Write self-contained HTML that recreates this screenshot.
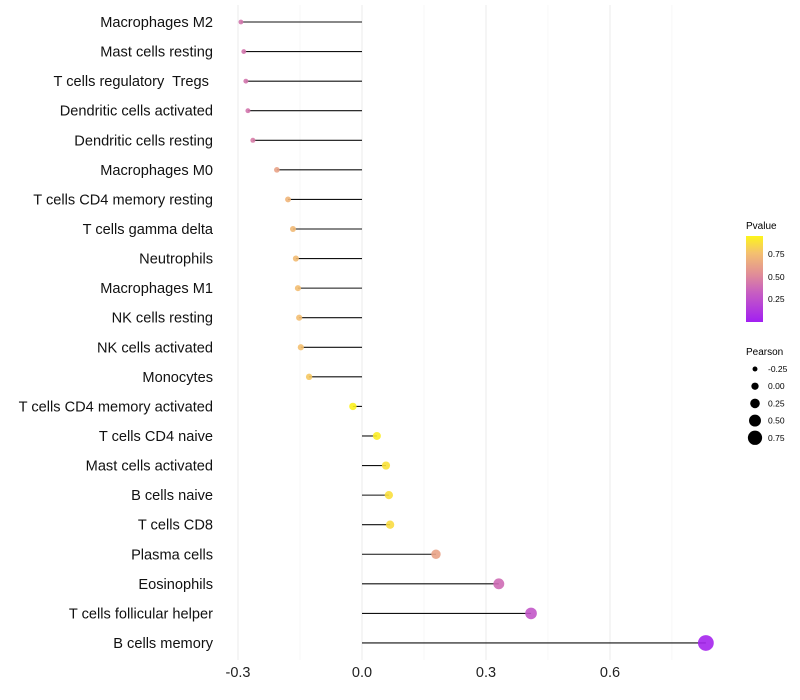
<!DOCTYPE html>
<html><head><meta charset="utf-8"><style>
body{margin:0;background:#fff;}
svg{display:block;font-family:"Liberation Sans",sans-serif;}
text{white-space:pre;}
</style></head><body>
<svg id="chart" width="800" height="700">
<defs><linearGradient id="pg" x1="0" y1="1" x2="0" y2="0">
<stop offset="0" stop-color="#a21ff2"/><stop offset="0.35" stop-color="#c860c0"/><stop offset="0.55" stop-color="#e08c98"/><stop offset="0.8" stop-color="#f4c070"/><stop offset="1" stop-color="#fdf51a"/></linearGradient></defs>
<g id="grid"></g><g id="marks"></g><g id="ylabels"></g><g id="xticks"></g>
<g>
<text x="746" y="229" font-size="10">Pvalue</text>
<rect x="746" y="236" width="17" height="86" fill="url(#pg)"/>
<text x="768" y="257" font-size="8.5">0.75</text>
<text x="768" y="280" font-size="8.5">0.50</text>
<text x="768" y="302" font-size="8.5">0.25</text>
</g>
<g id="sizeleg">
<text x="746" y="355" font-size="10">Pearson</text>
</g>
</svg>
<script>
const categories=["Macrophages M2","Mast cells resting","T cells regulatory  Tregs ","Dendritic cells activated","Dendritic cells resting","Macrophages M0","T cells CD4 memory resting","T cells gamma delta","Neutrophils","Macrophages M1","NK cells resting","NK cells activated","Monocytes","T cells CD4 memory activated","T cells CD4 naive","Mast cells activated","B cells naive","T cells CD8","Plasma cells","Eosinophils","T cells follicular helper","B cells memory"];
const pearson=[-0.293,-0.286,-0.281,-0.276,-0.264,-0.206,-0.179,-0.167,-0.160,-0.155,-0.152,-0.148,-0.128,-0.022,0.036,0.058,0.065,0.068,0.179,0.331,0.409,0.832];
const pvalue=[0.42,0.42,0.42,0.42,0.45,0.62,0.70,0.72,0.73,0.74,0.74,0.75,0.78,0.93,0.91,0.87,0.86,0.85,0.62,0.38,0.28,0.03];
const xTicks=[-0.3,0.0,0.3,0.6];
const xTickLabels=["-0.3","0.0","0.3","0.6"];
const sizeLegend=[-0.25,0.00,0.25,0.50,0.75];
const sizeLegendLabels=["-0.25","0.00","0.25","0.50","0.75"];
const NS="http://www.w3.org/2000/svg";
const X=v=>362+v*413.3;
const Y=i=>22+i*29.57;
const R=v=>Math.max(1.6,2.6+(v+0.25)*4.9);
const stops=[[0,[162,31,242]],[0.33,[200,96,192]],[0.52,[224,140,152]],[0.75,[244,192,112]],[0.94,[253,245,26]]];
function col(p){if(p<=0)p=0;for(let k=1;k<stops.length;k++){if(p<=stops[k][0]||k==stops.length-1){const a=stops[k-1],b=stops[k];let t=(p-a[0])/(b[0]-a[0]);t=Math.max(0,Math.min(1,t));return "rgb("+a[1].map((c,j)=>Math.round(c+(b[1][j]-c)*t)).join(",")+")";}}}
function el(t,a,parent){const e=document.createElementNS(NS,t);for(const k in a)e.setAttribute(k,a[k]);parent.appendChild(e);return e;}
const grid=document.getElementById('grid'),marks=document.getElementById('marks'),yl=document.getElementById('ylabels'),xt=document.getElementById('xticks');
[-0.15,0.15,0.45,0.75].forEach(v=>{const l=el('line',{x1:X(v),x2:X(v),y1:5,y2:660,stroke:'#f2f2f2','stroke-width':0.6},grid);

});
xTicks.forEach((v,i)=>{const l=el('line',{x1:X(v),x2:X(v),y1:5,y2:660,stroke:'#ebebeb','stroke-width':1},grid);


const t=el('text',{x:X(v),y:677,'font-size':14.5,'text-anchor':'middle',fill:'#222'},xt);t.textContent=xTickLabels[i];

});
categories.forEach((c,i)=>{const y=Y(i);
const t=el('text',{x:213,y:y+5,'font-size':14.6,'text-anchor':'end',fill:'#111'},yl);t.textContent=c;


const s=el('line',{x1:X(0),x2:X(pearson[i]),y1:y,y2:y,stroke:'#111','stroke-width':1.1},marks);


const d=el('circle',{cx:X(pearson[i]),cy:y,r:R(pearson[i]),fill:col(pvalue[i]),'fill-opacity':0.9},marks);

});
const sl=document.getElementById('sizeleg');
sizeLegend.forEach((v,i)=>{const y=369+i*17.2;
const c=el('circle',{cx:755,cy:y,r:R(v)*0.95,fill:'#000'},sl);


const t=el('text',{x:768,y:y+3,'font-size':8.5},sl);t.textContent=sizeLegendLabels[i];

});
</script>
</body></html>
